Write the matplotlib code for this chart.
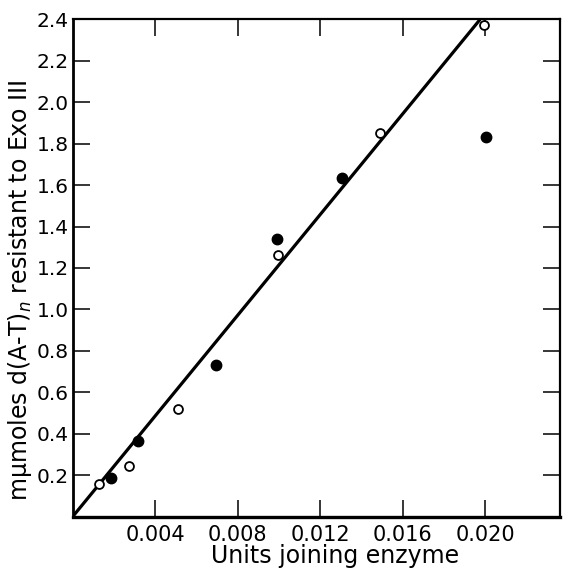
import matplotlib
matplotlib.use("Agg")
import matplotlib.pyplot as plt

# ---- data ----
open_x = [0.00126, 0.00275, 0.00511, 0.00994, 0.0149, 0.01996]
open_y = [0.158, 0.247, 0.520, 1.261, 1.851, 2.374]
filled_x = [0.00186, 0.00317, 0.00695, 0.00989, 0.01305, 0.02004]
filled_y = [0.186, 0.366, 0.732, 1.339, 1.632, 1.831]
fit_x = [0.0, 0.01976]
fit_y = [0.0, 2.4]

x_ticks = [0.004, 0.008, 0.012, 0.016, 0.020]
x_tick_labels = ["0.004", "0.008", "0.012", "0.016", "0.020"]
y_ticks = [0.2, 0.4, 0.6, 0.8, 1.0, 1.2, 1.4, 1.6, 1.8, 2.0, 2.2, 2.4]
y_tick_labels = ["0.2", "0.4", "0.6", "0.8", "1.0", "1.2", "1.4", "1.6", "1.8", "2.0", "2.2", "2.4"]

xlabel = "Units joining enzyme"
ylabel = "mμmoles d(A-T)$_n$ resistant to Exo III"

plt.rcParams['font.family'] = ['DejaVu Sans']
plt.rcParams['mathtext.fontset'] = 'dejavusans'

fig = plt.figure(figsize=(5.63, 5.71), dpi=100)
ax = fig.add_axes([0.129, 0.0951, 0.8657, 0.8711])

ax.plot(fit_x, fit_y, color='black', lw=2.3, solid_capstyle='butt', zorder=2)
ax.plot(open_x, open_y, linestyle='none', marker='o', markersize=6.4,
        markerfacecolor='white', markeredgecolor='black', markeredgewidth=1.3, zorder=3)
ax.plot(filled_x, filled_y, linestyle='none', marker='o', markersize=7.5,
        markerfacecolor='black', markeredgecolor='black', zorder=3)

ax.set_xlim(0, 0.02363)
ax.set_ylim(0, 2.4)
ax.set_xticks(x_ticks)
ax.set_xticklabels(x_tick_labels)
ax.set_yticks(y_ticks)
ax.set_yticklabels(y_tick_labels)

ax.tick_params(axis='both', which='major', direction='in', length=12, width=1.1,
               color='black')
ax.tick_params(axis='x', top=True, pad=6, labelsize=15)
ax.tick_params(axis='y', right=True, pad=3, labelsize=14.5)

for side, lw in [('left', 2.0), ('bottom', 2.4), ('top', 1.6), ('right', 1.6)]:
    ax.spines[side].set_linewidth(lw)
    ax.spines[side].set_color('black')

ax.set_xlabel(xlabel, fontsize=17)
ax.set_ylabel(ylabel, fontsize=17)
ax.xaxis.set_label_coords(0.538, -0.055)
ax.yaxis.set_label_coords(-0.08, 0.456)

fig.savefig("out.png", dpi=100, facecolor='white')
